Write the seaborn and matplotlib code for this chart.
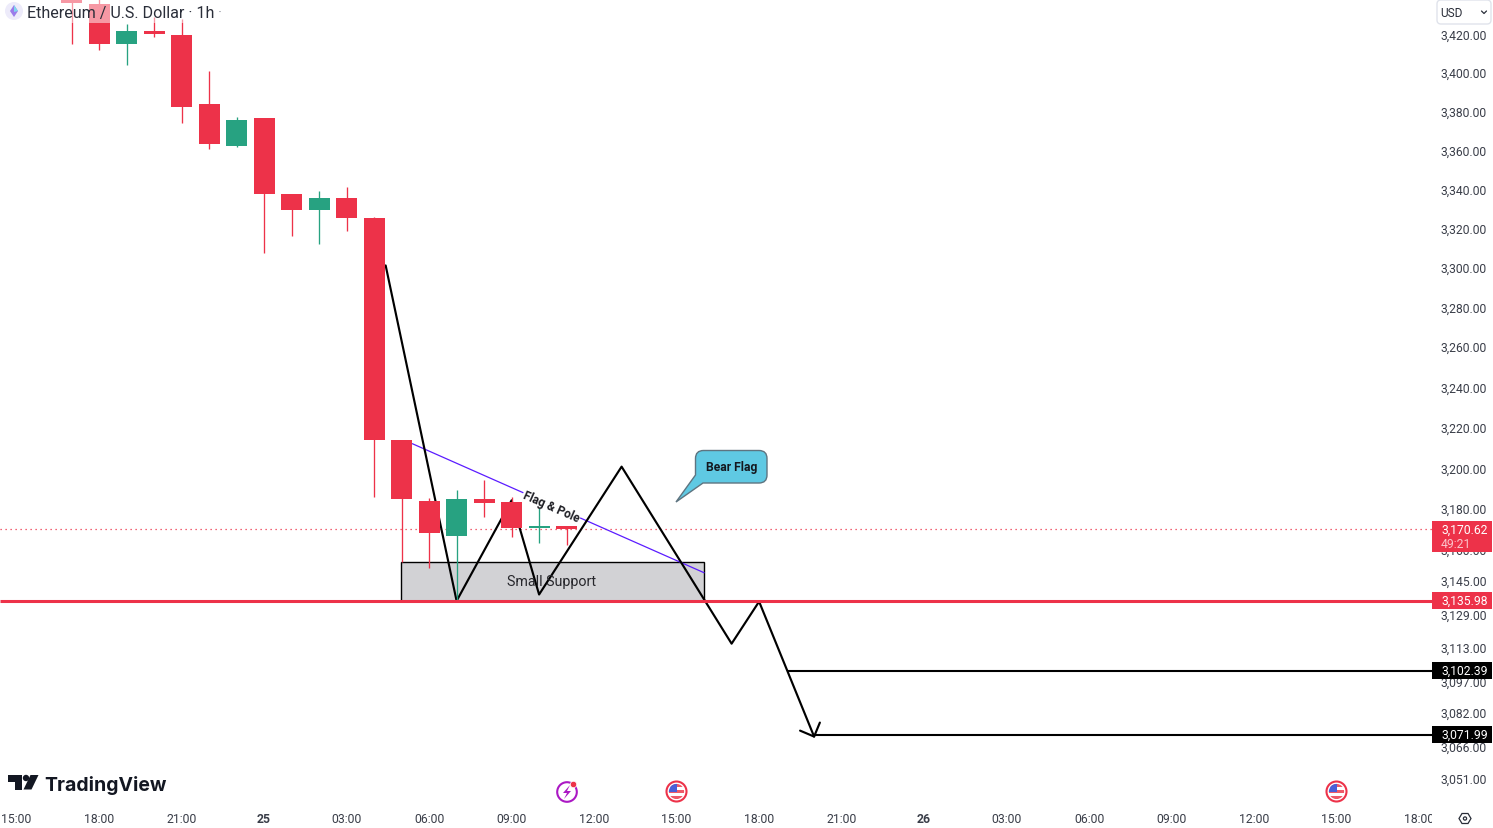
import matplotlib
matplotlib.use('Agg')
import matplotlib.pyplot as plt
import matplotlib.transforms as mtrans
from matplotlib.patches import Circle, FancyBboxPatch, PathPatch, Polygon, Rectangle
from matplotlib.path import Path
from matplotlib.ticker import NullLocator
import seaborn as sns

# candles, x is hours from 00:00 on the 25th
hours = [-7, -6, -5, -4, -3, -2, -1, 0, 1, 2, 3, 4, 5, 6, 7, 8, 9, 10, 11]
opens = [3443.3, 3437.0, 3416.0, 3422.8, 3420.7, 3384.7, 3362.9, 3377.4, 3338.3, 3330.1, 3336.2, 3326.0,
         3214.6, 3184.7, 3167.6, 3185.2, 3184.2, 3171.5, 3172.5]
closes = [3437.5, 3416.0, 3422.8, 3421.2, 3383.1, 3364.0, 3376.4, 3338.3, 3330.1, 3336.2, 3326.0, 3214.6,
          3185.2, 3169.0, 3185.2, 3183.7, 3171.5, 3172.5, 3170.6]
highs = [3449.7, 3440.2, 3426.5, 3430.2, 3429.1, 3401.9, 3378.0, 3377.4, 3338.3, 3339.8, 3341.8, 3326.5,
         3214.6, 3185.7, 3190.0, 3194.9, 3186.6, 3182.2, 3172.5]
lows = [3416.0, 3412.8, 3405.0, 3419.7, 3374.8, 3361.4, 3362.4, 3308.2, 3316.8, 3312.7, 3319.4, 3186.6,
        3155.0, 3152.1, 3136.0, 3176.8, 3167.1, 3164.2, 3163.2]

# hand drawn path on the chart
path_hours = [4.42, 7, 9, 10, 13, 17, 18, 20]
path_prices = [3301.7, 3136.0, 3184.8, 3139.1, 3201.3, 3115.5, 3135.7, 3071.4]
arrow_hours = [19.49, 20, 20.21]
arrow_prices = [3074.2, 3071.4, 3078.0]
flag_hours = [5.39, 16.0]
flag_prices = [3212.6, 3149.6]

last_price = 3170.62
support_price = 3135.98
target_prices = [3102.39, 3071.99]
target_start = [19.0, 20.03]
box_hours = [4.97, 16.0]
box_prices = [3135.98, 3155.0]

price_ticks = [3420, 3400, 3380, 3360, 3340, 3320, 3300, 3280, 3260, 3240, 3220, 3200, 3180, 3160,
               3145, 3129, 3113, 3097, 3082, 3066, 3051]
time_ticks = list(range(-9, 45, 3))
time_labels = ['15:00', '18:00', '21:00', '25', '03:00', '06:00', '09:00', '12:00', '15:00',
               '18:00', '21:00', '26', '03:00', '06:00', '09:00', '12:00', '15:00', '18:00']

RED = '#ED3249'
GREEN = '#27A281'
TEXT = '#2A2E39'
X0 = 264.1
plot_end = (1432 - X0) / 27.5

sns.set_style('white')
plt.rcParams['font.family'] = ['Roboto', 'DejaVu Sans']

fig = plt.figure(figsize=(14.93, 8.29), dpi=100)
ax = fig.add_axes([0, 0, 1, 1])
ax.set_yscale('log')
ax.set_xlim(-X0 / 27.5, (1493 - X0) / 27.5)
ax.set_ylim(3028.6, 3439.5)
for s in ax.spines.values():
    s.set_visible(False)

# pixel coordinates from the top left, for the overlays and icons
pix = mtrans.Affine2D().scale(1, -1).translate(0, 829)

# price and time scales
ax.yaxis.tick_right()
ax.set_yticks(price_ticks)
ax.set_yticklabels([f'{p:,.2f}' for p in price_ticks])
ax.yaxis.set_minor_locator(NullLocator())
ax.tick_params(axis='y', length=0, pad=-37.5, labelsize=8.7, labelcolor='#3A3E49')
for lab in ax.get_yticklabels():
    lab.set_ha('left')
    lab.set_transform(lab.get_transform() + mtrans.Affine2D().translate(0, 2.0))
ax.set_xticks(time_ticks)
ax.set_xticklabels(time_labels)
ax.tick_params(axis='x', length=0, pad=-11.8, labelsize=8.8, labelcolor='#3A3E49')
xlabs = ax.get_xticklabels()
for lab, name in zip(xlabs, time_labels):
    if name in ('25', '26'):
        lab.set_fontweight('bold')
xlabs[-1].set_clip_box(mtrans.Bbox([[0, 0], [1432, 829]]))
xlabs[-1].set_clip_on(True)

# support box and drawings sit below the candles
ax.add_patch(Rectangle((box_hours[0], box_prices[0]), box_hours[1] - box_hours[0], box_prices[1] - box_prices[0],
                       fc='#D2D2D5', ec='black', lw=1, zorder=1.2))
ax.text(552, 582, 'Small Support', transform=pix, ha='center', va='center',
        fontsize=10.3, color='#26262B', zorder=2.6)
sns.lineplot(x=flag_hours, y=flag_prices, ax=ax, color='#5B1CFF', lw=0.9, sort=False, estimator=None, zorder=1.3)
sns.lineplot(x=path_hours, y=path_prices, ax=ax, color='black', lw=1.55, sort=False, estimator=None, zorder=1.5)
sns.lineplot(x=arrow_hours, y=arrow_prices, ax=ax, color='black', lw=1.55, sort=False, estimator=None, zorder=1.5)
for start, price in zip(target_start, target_prices):
    ax.plot([start, plot_end], [price, price], color='black', lw=1.5, zorder=1.5, solid_capstyle='butt')
ax.plot([ax.get_xlim()[0], plot_end], [last_price, last_price], color=RED, lw=0.9, ls=(0, (1, 3)), zorder=1.1)

# candles
colors = [GREEN if c > o else RED for o, c in zip(opens, closes)]
ax.vlines(hours, lows, highs, colors=colors, lw=0.95, zorder=2)
ax.bar(hours, [abs(c - o) for o, c in zip(opens, closes)], bottom=[min(o, c) for o, c in zip(opens, closes)],
       width=0.76, color=colors, lw=0, zorder=2.1)

ax.plot([ax.get_xlim()[0], plot_end], [support_price, support_price], color=RED, lw=2.2, zorder=2.7,
        solid_capstyle='butt')

# label along the flag line
ax.text(551.5, 507, 'Flag & Pole', transform=pix, rotation=-23.8, rotation_mode='anchor', ha='center', va='center',
        fontsize=8.6, fontweight='bold', color='#1E1E24', zorder=3,
        bbox=dict(fc='white', ec='none', pad=0.6))

# Bear Flag callout
l, r, t, b, c = 695.5, 767, 451.5, 484, 8
verts = [(l + c, t), (r - c, t), (r, t), (r, t + c), (r, b - c), (r, b), (r - c, b), (703, b), (676, 503), (695.5, 476),
         (l, t + c), (l, t), (l + c, t), (l + c, t)]
codes = [Path.MOVETO, Path.LINETO, Path.CURVE3, Path.CURVE3, Path.LINETO, Path.CURVE3, Path.CURVE3, Path.LINETO,
         Path.LINETO, Path.LINETO, Path.LINETO, Path.CURVE3, Path.CURVE3, Path.CLOSEPOLY]
ax.add_patch(PathPatch(Path(verts, codes), fc='#5FC9E3', ec='#5E7480', lw=1, transform=pix, zorder=3))
ax.text(731.5, 468, 'Bear Flag', transform=pix, ha='center', va='center', fontsize=8.7, fontweight='bold',
        color='#14181F', zorder=3.1)

# legend shade and title
ax.add_patch(Rectangle((0, 0), 221, 24, fc='white', alpha=0.5, ec='none', transform=pix, zorder=3))
ax.add_patch(Circle((14, 12), 9, fc='#EDEBFA', ec='none', transform=pix, zorder=3.1))
ax.add_patch(Polygon([(14, 6), (18, 12), (14, 18), (10, 12)], fc='#9A7BEA', ec='none', transform=pix, zorder=3.2))
ax.add_patch(Polygon([(14, 6), (18, 12), (14, 13)], fc='#7FD6EE', ec='none', transform=pix, zorder=3.3))
ax.text(27, 13.5, 'Ethereum / U.S. Dollar · 1h', transform=pix, ha='left', va='center', fontsize=11.6, color=TEXT,
        zorder=3.4)
ax.text(218, 13.5, '·', transform=pix, ha='left', va='center', fontsize=11, color='#9598A1', zorder=3.4)

# currency button
ax.add_patch(FancyBboxPatch((1439, 3), 50, 20, boxstyle='round,pad=2,rounding_size=4', fc='white', ec='#E0E3EB', lw=1,
                            transform=pix, zorder=3))
ax.text(1440, 14, 'USD', transform=pix, ha='left', va='center', fontsize=8.6, color=TEXT, zorder=3.1)
ax.plot([1481.5, 1484, 1486.5], [12, 14.5, 12], color=TEXT, lw=0.9, transform=pix, zorder=3.1)

# price labels over the scale
ax.add_patch(Rectangle((1432, 522), 60, 31, fc=RED, ec='none', transform=pix, zorder=4))
ax.text(1441, 530.5, f'{last_price:,.2f}', transform=pix, va='center', fontsize=8.7, color='white', zorder=4.1)
ax.text(1441, 544.5, '49:21', transform=pix, va='center', fontsize=8.7, color='#FBC4CB', zorder=4.1)
ax.add_patch(Rectangle((1432, 593), 60, 17, fc=RED, ec='none', transform=pix, zorder=4))
ax.text(1441, 601.5, f'{support_price:,.2f}', transform=pix, va='center', fontsize=8.7, color='white', zorder=4.1)
for price, top in zip(target_prices, [663, 727]):
    ax.add_patch(Rectangle((1432, top), 60, 17, fc='black', ec='none', transform=pix, zorder=4))
    ax.text(1441, top + 8.5, f'{price:,.2f}', transform=pix, va='center', fontsize=8.7, color='white', zorder=4.1)

# TradingView logo
INK = '#131722'
ax.add_patch(Polygon([(8, 776), (22, 776), (22, 790.5), (14.5, 790.5), (14.5, 783), (8, 783)], fc=INK, ec='none',
                     transform=pix, zorder=3))
ax.add_patch(Circle((26, 779), 3.2, fc=INK, ec='none', transform=pix, zorder=3))
ax.add_patch(Polygon([(23.5, 790.5), (31.5, 790.5), (38.5, 776), (30.5, 776)], fc=INK, ec='none', transform=pix,
                     zorder=3))
ax.text(44.5, 785.5, 'TradingView', transform=pix, ha='left', va='center', fontsize=14, fontweight='bold',
        family='Inter', color=INK, zorder=3)

# event icons on the time scale
ax.add_patch(Circle((567, 793), 9.8, fc='white', ec='#AB18C4', lw=1.5, transform=pix, zorder=3))
ax.add_patch(Polygon([(570, 786), (563, 794), (567, 794), (564, 800), (571, 792), (567, 792)], fc='#AB18C4', ec='none',
                     transform=pix, zorder=3.1))
ax.add_patch(Circle((573.5, 785.5), 3.2, fc=RED, ec='white', lw=0.5, transform=pix, zorder=3.2))
for cx in [676.5, 1336.5]:
    ax.add_patch(Circle((cx, 792.5), 10, fc='white', ec=RED, lw=1.5, transform=pix, zorder=3))
    flag = Circle((cx, 792.5), 7.6, transform=pix)
    for top, h in [(785, 3), (791, 3), (797, 3)]:
        st = Rectangle((cx - 9, top), 18, h, fc='#EE5A68', ec='none', transform=pix, zorder=3.1)
        ax.add_patch(st)
        st.set_clip_path(flag)
    canton = Rectangle((cx - 9, 784), 9.5, 8.5, fc='#4A5FD8', ec='none', transform=pix, zorder=3.2)
    ax.add_patch(canton)
    canton.set_clip_path(flag)

# settings icon
hexagon = [(1459, 819.5), (1462, 814.5), (1468, 814.5), (1471, 819.5), (1468, 824.5), (1462, 824.5)]
ax.add_patch(Polygon(hexagon, fc='white', ec=TEXT, lw=0.9, transform=pix, zorder=3))
ax.add_patch(Circle((1465, 819.5), 1.6, fc='white', ec=TEXT, lw=0.9, transform=pix, zorder=3.1))

fig.savefig('out.png', dpi=100)
